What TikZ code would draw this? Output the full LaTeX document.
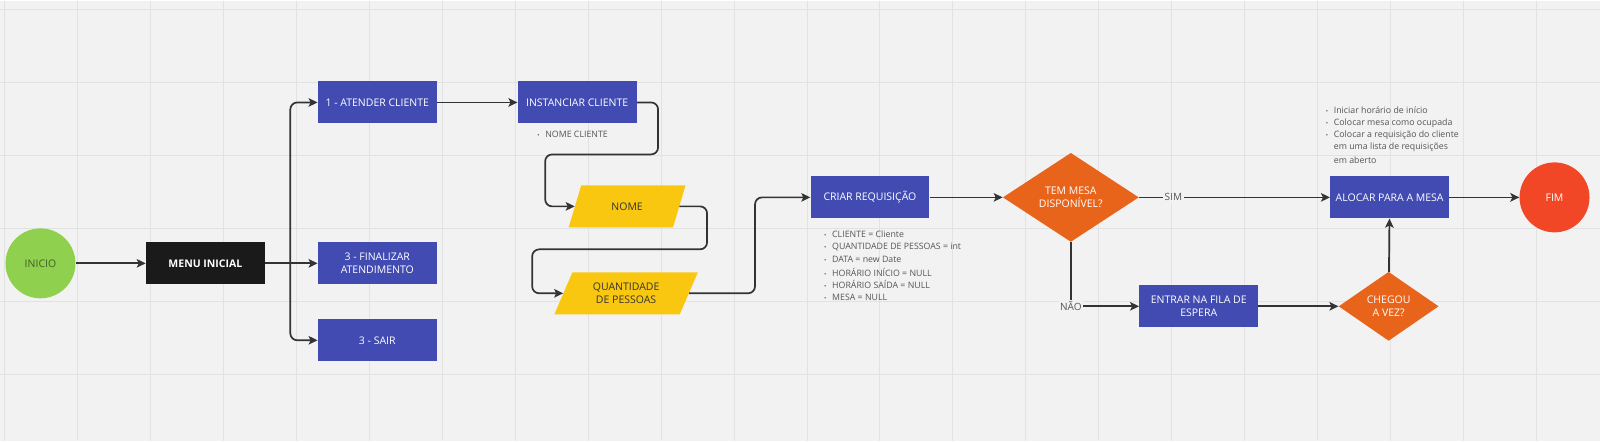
\documentclass[tikz,border=0pt]{standalone}
\usepackage{fontspec}
\setmainfont{Open Sans}
\usetikzlibrary{shapes.geometric,arrows.meta}
\definecolor{fundo}{HTML}{F2F2F2}
\definecolor{cinzagrade}{HTML}{E2E2E2}
\definecolor{azul}{HTML}{414BB2}
\definecolor{preto}{HTML}{1A1A1A}
\definecolor{verde}{HTML}{8FD14F}
\definecolor{verdeescuro}{HTML}{3F5F25}
\definecolor{amarelo}{HTML}{FAC710}
\definecolor{laranja}{HTML}{E8641B}
\definecolor{vermelho}{HTML}{F24726}
\definecolor{linha}{HTML}{333333}
\definecolor{textonota}{HTML}{555555}
\newcommand{\pont}{\makebox[8pt][l]{\scalebox{.7}{•}}}
\newcommand{\recuo}{\hspace*{8pt}}

\begin{document}
\begin{tikzpicture}[x=1pt,y=-1pt,>={Stealth[length=9pt,width=8.5pt,inset=2pt]},
    grade/.style={cinzagrade, line width=1pt},
    caixa/.style={fill=azul, text=white, minimum width=119pt, minimum height=42pt,
        inner sep=2pt, align=center, font=\fontsize{10.5}{12.5}\selectfont},
    circulo/.style={circle, minimum size=70pt, inner sep=0pt, font=\fontsize{10.5}{12.5}\selectfont},
    dado/.style={trapezium, trapezium left angle=61, trapezium right angle=119,
        trapezium stretches=true, fill=amarelo, text=linha, minimum height=42pt,
        inner sep=0pt, align=center, font=\fontsize{10.5}{12.5}\selectfont},
    losango/.style={diamond, fill=laranja, text=white, inner sep=0pt, align=center,
        font=\fontsize{10.5}{12.5}\selectfont},
    nota/.style={anchor=west, inner sep=0pt, text=textonota, font=\fontsize{8.8}{10}\selectfont},
    rotulo/.style={fill=fundo, text=textonota, inner sep=1.5pt, font=\fontsize{10}{12}\selectfont},
    seta/.style={->, draw=linha, line width=1.7pt}]
\fill[fundo] (0,0) rectangle (1600,441);
\foreach \x in {4,77,...,1600}
{
    \draw[grade] (\x,0)--(\x,441);
}
\foreach \y in {9,82,...,441}
{
    \draw[grade] (0,\y)--(1600,\y);
}
\useasboundingbox (0,0) rectangle (1600,441);

\node[circulo, fill=verde, text=verdeescuro] (inicio) at (40,263) {INICIO};
\node[caixa, fill=preto, font=\fontsize{10.5}{12.5}\selectfont\bfseries] (menu) at (205,263) {MENU INICIAL};
\node[caixa] (atender) at (377,102) {1 - ATENDER CLIENTE};
\node[caixa] (finalizar) at (377,263) {3 - FINALIZAR\\ATENDIMENTO};
\node[caixa] (sair) at (377,340) {3 - SAIR};
\node[caixa] (instanciar) at (577,102) {INSTANCIAR CLIENTE};
\node[nota] (nomecliente) at (537,134) {\pont NOME CLIENTE};
\node[dado, minimum width=117pt] (nome) at (627,206) {NOME};
\node[dado, minimum width=144pt] (quantidade) at (626,293) {QUANTIDADE\\DE PESSOAS};
\node[caixa] (criar) at (870,197) {CRIAR REQUISIÇÃO};
\foreach \i/\t in {0/CLIENTE = Cliente,1/QUANTIDADE DE PESSOAS = int,2/DATA = new Date,
    3/HORÁRIO INÍCIO = NULL,4/HORÁRIO SAÍDA = NULL,5/MESA = NULL}
{
    \node[nota] (campo\i) at (824,234+12.6*\i) {\pont\t};
}
\node[losango, minimum width=136pt, minimum height=89pt] (temmesa) at (1071,197) {TEM MESA\\DISPONÍVEL?};
\node[caixa] (alocar) at (1390,197) {ALOCAR PARA A MESA};
\foreach \i/\t in {0/\pont Iniciar horário de início,1/\pont Colocar mesa como ocupada,
    2/\pont Colocar a requisição do cliente,3/\recuo em uma lista de requisições,4/\recuo em aberto}
{
    \node[nota] (acao\i) at (1326,110+12.4*\i) {\t};
}
\node[circulo, fill=vermelho, text=white] (fim) at (1555,197) {FIM};
\node[caixa] (entrar) at (1199,306) {ENTRAR NA FILA DE\\ESPERA};
\node[losango, minimum width=100pt, minimum height=69pt] (chegou) at (1389,306) {CHEGOU\\A VEZ?};

\coordinate (ramo) at (290,263);
\draw[seta] (inicio) -- (menu);
\draw[seta, -] (menu) -- (ramo);
\draw[seta, rounded corners=7pt] (ramo) |- (atender);
\draw[seta] (ramo) -- (finalizar);
\draw[seta, rounded corners=7pt] (ramo) |- (sair);
\draw[seta] (atender) -- (instanciar);
\draw[seta, rounded corners=7pt] (instanciar.east) -| (658,154) -| (545,206) -- (nome.west);
\draw[seta, rounded corners=7pt] (nome.east) -| (707,249) -| (532,293) -- (quantidade.west);
\draw[seta, rounded corners=7pt] (quantidade.east) -| (755,197) -- (criar.west);
\draw[seta] (criar) -- (temmesa);
\draw[seta] (temmesa) -- node[rotulo, pos=0.18]{SIM} (alocar);
\draw[seta] (temmesa.south) |- node[rotulo, pos=0.5]{NÃO} (entrar.west);
\draw[seta] (entrar) -- (chegou);
\draw[seta] (chegou) -- (alocar);
\draw[seta] (alocar) -- (fim);
\end{tikzpicture}
\end{document}
